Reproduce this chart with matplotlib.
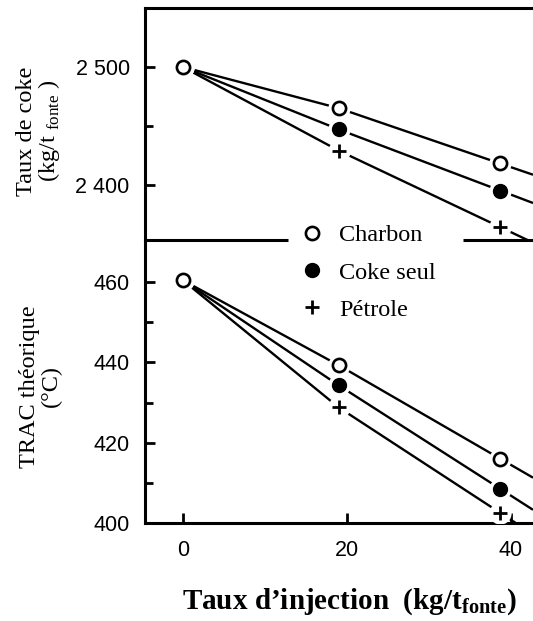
import matplotlib
matplotlib.use("Agg")
import matplotlib.pyplot as plt
from matplotlib.lines import Line2D
from matplotlib.ticker import FixedLocator, FuncFormatter

plt.rcParams['mathtext.fontset'] = 'custom'
plt.rcParams['mathtext.rm'] = 'Liberation Serif'
plt.rcParams['mathtext.bf'] = 'Liberation Serif:bold'

# ---- data ----
x_inj = [0, 19, 38.7]
series = ["Charbon", "Coke seul", "Pétrole"]
coke_charbon = [2500, 2465, 2418]
coke_seul = [2500, 2447, 2395]
coke_petrole = [2500, 2429, 2364]
trac_charbon = [460.5, 439.3, 416.0]
trac_seul = [460.5, 434.3, 408.5]
trac_petrole = [460.5, 428.8, 402.5]
x_ticks = [0, 20, 40]
coke_ticks = [2400, 2500]
coke_minor = [2450]
trac_ticks = [400, 420, 440, 460]
trac_minor = [410, 430, 450]

XLIM = (-4.6, 42.7)
SERIF = 'Liberation Serif'
SANS = 'Liberation Sans'

fig = plt.figure(figsize=(5.33, 6.21), dpi=100)
ax1 = fig.add_axes([0.272, 0.6135, 0.728, 0.3735])
ax2 = fig.add_axes([0.272, 0.158, 0.728, 0.4555])
ax2.patch.set_visible(False)

styles = {
    "Charbon": dict(marker='o', mfc='white', mec='black', ms=9.5, mew=1.9),
    "Coke seul": dict(marker='o', mfc='black', mec='black', ms=10, mew=1.0),
    "Pétrole": dict(marker='+', mfc='black', mec='black', ms=10.5, mew=2.0),
}

def draw(ax, ys_by_name, order):
    for name in order:
        ys = ys_by_name[name]
        slope = (ys[-1] - ys[-2]) / (x_inj[-1] - x_inj[-2])
        xe = XLIM[1]
        ye = ys[-1] + slope * (xe - x_inj[-1])
        ax.plot(list(x_inj) + [xe], list(ys) + [ye], color='black', lw=1.7,
                solid_capstyle='butt', zorder=2)
    for i, name in enumerate(order):
        ys = ys_by_name[name]
        z = 3 + 2 * i
        ax.plot(x_inj, ys, linestyle='none', marker='o', ms=16, mfc='white',
                mec='none', zorder=z)
        ax.plot(x_inj, ys, linestyle='none', zorder=z + 1, **styles[name])

order = ["Pétrole", "Coke seul", "Charbon"]
draw(ax1, {"Charbon": coke_charbon, "Coke seul": coke_seul, "Pétrole": coke_petrole}, order)
draw(ax2, {"Charbon": trac_charbon, "Coke seul": trac_seul, "Pétrole": trac_petrole}, order)

for ax in (ax1, ax2):
    ax.set_xlim(*XLIM)
    ax.spines['right'].set_visible(False)
    for s in ax.spines.values():
        s.set_linewidth(2.2)
    ax.tick_params(direction='in', width=2.0, length=7, pad=11)
    ax.tick_params(which='minor', direction='in', width=2.0, length=6)

ax1.set_ylim(2353, 2550)
ax1.yaxis.set_major_locator(FixedLocator(coke_ticks))
ax1.yaxis.set_minor_locator(FixedLocator(coke_minor))
ax1.yaxis.set_major_formatter(FuncFormatter(lambda v, p: f"{int(v):,}".replace(",", " ")))
ax1.set_xticks([])
ax1.tick_params(axis='x', bottom=False, labelbottom=False)
# separator line between panels, interrupted by the legend
ax1.spines['bottom'].set_visible(False)
for x0, x1 in ((0.0, 0.369), (0.82, 1.0)):
    ax1.axhline(ax1.get_ylim()[0], xmin=x0, xmax=x1, color='black', lw=2.2,
                clip_on=False, solid_capstyle='butt', zorder=10)

ax2.set_ylim(400, 470.5)
ax2.spines['top'].set_visible(False)
ax2.yaxis.set_major_locator(FixedLocator(trac_ticks))
ax2.yaxis.set_minor_locator(FixedLocator(trac_minor))
ax2.xaxis.set_major_locator(FixedLocator(x_ticks))
ax2.tick_params(axis='x', pad=12)

for ax in (ax1, ax2):
    for lab in ax.get_yticklabels() + ax.get_xticklabels():
        lab.set_family(SANS)
        lab.set_fontsize(15.5)

ax1.set_ylabel("Taux de coke\n(kg/t $_{\\rm fonte}$ )", family=SERIF, fontsize=17.5,
               linespacing=0.95, multialignment='center')
ax1.yaxis.set_label_coords(-0.215, 0.47)
ax2.set_ylabel("TRAC théorique\n(°C)", family=SERIF, fontsize=17.5,
               linespacing=1.0, multialignment='center')
ax2.yaxis.set_label_coords(-0.215, 0.483)

ax2.set_xlabel("Taux d’injection  (kg/t$_{\\mathbf{fonte}}$)", family=SERIF,
               fontweight='bold', fontsize=21)
ax2.xaxis.set_label_coords(0.526, -0.225)
ax2.xaxis.label.set_va('top')

handles = [Line2D([], [], linestyle='none', **styles[n]) for n in series]
leg = fig.legend(handles, series, loc='center', bbox_to_anchor=(368 / 533, 1 - 272.5 / 621),
                 frameon=False, prop={'family': SERIF, 'size': 17.5}, handlelength=1.0,
                 handletextpad=0.6, labelspacing=0.62, borderpad=0.3)

fig.savefig("out.png", dpi=100)
